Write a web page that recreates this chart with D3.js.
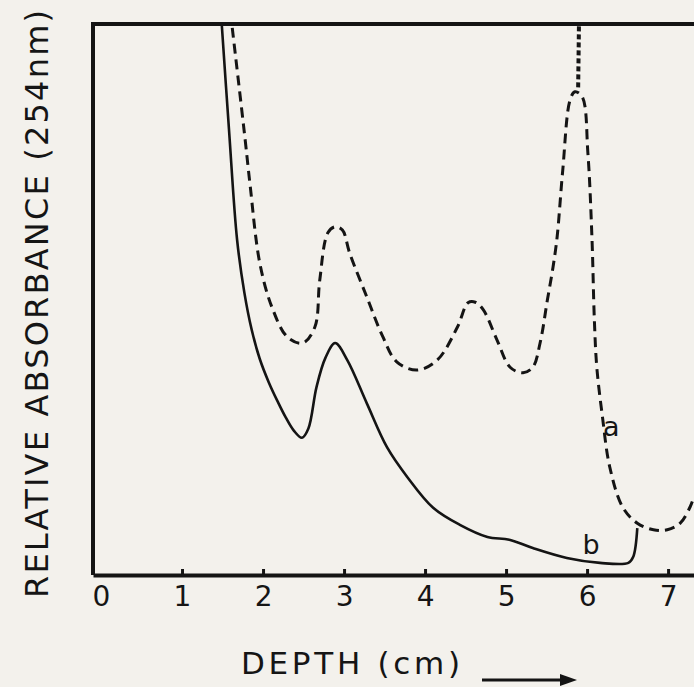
<!DOCTYPE html>
<html>
<head>
<meta charset="utf-8">
<script src="https://cdn.jsdelivr.net/npm/d3@7/dist/d3.min.js"></script>
<style>
  html, body { margin: 0; padding: 0; background: #f3f1ec; }
  svg { display: block; }
  text { font-family: "DejaVu Sans", "Liberation Sans", sans-serif; fill: #151515; }
</style>
</head>
<body>
<div id="chart"></div>
<script>
// ---- data (depth in cm, relative absorbance in arbitrary units, 0..100 = full scale) ----
const depthTicks = [0, 1, 2, 3, 4, 5, 6, 7];
const tickLabels = ["0", "1", "2", "3", "4", "5", "6", "7"];

// curve a (dashed)
const depthA = [1.62, 1.78, 1.84, 1.96, 2.11, 2.30, 2.49, 2.64, 2.70, 2.80, 2.89, 2.98, 3.07, 3.28, 3.48, 3.65,
  3.90, 4.15, 4.40, 4.53, 4.62, 4.72, 4.89, 5.05, 5.21, 5.33, 5.42, 5.51, 5.58, 5.63, 5.70, 5.79, 5.85,
  5.94, 6.01, 6.06, 6.09, 6.12, 6.19, 6.28, 6.44, 6.62, 6.82, 6.99, 7.15, 7.27, 7.32];
const absA = [99.3, 78.9, 70.8, 56.6, 48.6, 43.2, 42.1, 45.0, 53.5, 62.1, 63.2, 62.6, 58.4, 50.5, 43.2, 38.7,
  37.2, 39.0, 45.0, 49.4, 49.5, 48.1, 42.6, 37.7, 36.7, 37.7, 42.1, 49.9, 55.9, 61.3, 73.5, 86.2, 87.7,
  86.8, 76.6, 61.3, 46.3, 37.7, 28.7, 19.6, 12.3, 9.4, 8.2, 8.2, 9.4, 12.3, 14.2];

// curve b (solid)
const depthB = [1.49, 1.58, 1.68, 1.77, 1.86, 1.96, 2.07, 2.18, 2.28, 2.38, 2.48, 2.56, 2.66, 2.77, 2.89,
  3.04, 3.28, 3.53, 3.78, 4.10, 4.43, 4.77, 5.04, 5.33, 5.75, 6.16, 6.51, 6.57, 6.62];
const absB = [100.0, 80.8, 60.8, 51.2, 44.5, 39.2, 35.0, 31.5, 28.6, 26.2, 24.9, 26.6, 34.1, 39.4, 42.1,
  39.0, 31.2, 23.2, 17.8, 12.2, 9.1, 6.9, 6.4, 4.9, 3.1, 2.2, 2.2, 3.3, 8.5];

// off-scale marker above the peak of curve a
const markerDepth = [5.89, 5.90];
const markerAbs = [88.5, 100];

const curveLabels = [
  { name: "a", depth: 6.30, abs: 26.5 },
  { name: "b", depth: 6.05, abs: 5.2 }
];

const xTitle = "DEPTH (cm)";
const yTitle = "RELATIVE ABSORBANCE (254nm)";

// ---- layout ----
const W = 694, H = 687;
const mLeft = 93, mTop = 24, mBottom = 575, mRight = 694;

const x = d3.scaleLinear().domain([-0.099, 7.32]).range([mLeft, mRight]);
const y = d3.scaleLinear().domain([0, 100]).range([mBottom, mTop]);

const svg = d3.select("#chart").append("svg").attr("width", W).attr("height", H);
svg.append("rect").attr("width", W).attr("height", H).attr("fill", "#f3f1ec");

svg.append("defs").append("clipPath").attr("id", "plot")
  .append("rect").attr("x", mLeft).attr("y", mTop).attr("width", mRight - mLeft).attr("height", mBottom - mTop);

const ink = "#141414";

// curves
const line = d3.line().x(d => x(d[0])).y(d => y(d[1])).curve(d3.curveCatmullRom.alpha(0.5));
const g = svg.append("g").attr("clip-path", "url(#plot)");

g.append("path")
  .attr("d", line(depthA.map((d, i) => [d, absA[i]])))
  .attr("fill", "none").attr("stroke", ink).attr("stroke-width", 3)
  .attr("stroke-dasharray", "10,6");

g.append("path")
  .attr("d", d3.line().x(d => x(d[0])).y(d => y(d[1]))(markerDepth.map((d, i) => [d, markerAbs[i]])))
  .attr("fill", "none").attr("stroke", ink).attr("stroke-width", 4)
  .attr("stroke-dasharray", "5,3");

g.append("path")
  .attr("d", line(depthB.map((d, i) => [d, absB[i]])))
  .attr("fill", "none").attr("stroke", ink).attr("stroke-width", 2.6);

// frame: left and top lines
svg.append("path")
  .attr("d", `M${mLeft},${mBottom}V${mTop}H${mRight}`)
  .attr("fill", "none").attr("stroke", ink).attr("stroke-width", 4)
  .attr("stroke-linejoin", "miter");

// bottom axis
const xAxis = d3.axisBottom(x)
  .tickValues(depthTicks)
  .tickFormat((d, i) => tickLabels[i])
  .tickSizeInner(-6).tickSizeOuter(0).tickPadding(11);

const ax = svg.append("g").attr("transform", `translate(0,${mBottom})`).call(xAxis);
ax.select(".domain").attr("stroke", ink).attr("stroke-width", 4);
ax.selectAll(".tick line").attr("stroke", ink).attr("stroke-width", 3)
  .attr("opacity", d => d === 0 ? 0 : 1);
ax.selectAll(".tick text")
  .style("font-family", '"DejaVu Sans", sans-serif')
  .attr("font-size", 28).attr("fill", ink);

// curve labels
svg.selectAll("text.clabel").data(curveLabels).enter().append("text")
  .attr("class", "clabel")
  .attr("x", d => x(d.depth)).attr("y", d => y(d.abs))
  .attr("text-anchor", "middle").attr("dominant-baseline", "middle")
  .attr("font-size", 27).text(d => d.name);

// axis titles
svg.append("text")
  .attr("x", 241).attr("y", 674)
  .attr("font-size", 31)
  .attr("textLength", 219).attr("lengthAdjust", "spacing")
  .text(xTitle);

// arrow
const arrowY = 680;
svg.append("line").attr("x1", 482).attr("x2", 566).attr("y1", arrowY).attr("y2", arrowY)
  .attr("stroke", ink).attr("stroke-width", 3);
svg.append("path").attr("d", `M577,${arrowY}L560,${arrowY - 6}L560,${arrowY + 6}Z`).attr("fill", ink);

svg.append("text")
  .attr("transform", "translate(48,598) rotate(-90)")
  .attr("font-size", 32)
  .attr("textLength", 588).attr("lengthAdjust", "spacing")
  .text(yTitle);
</script>
</body>
</html>
